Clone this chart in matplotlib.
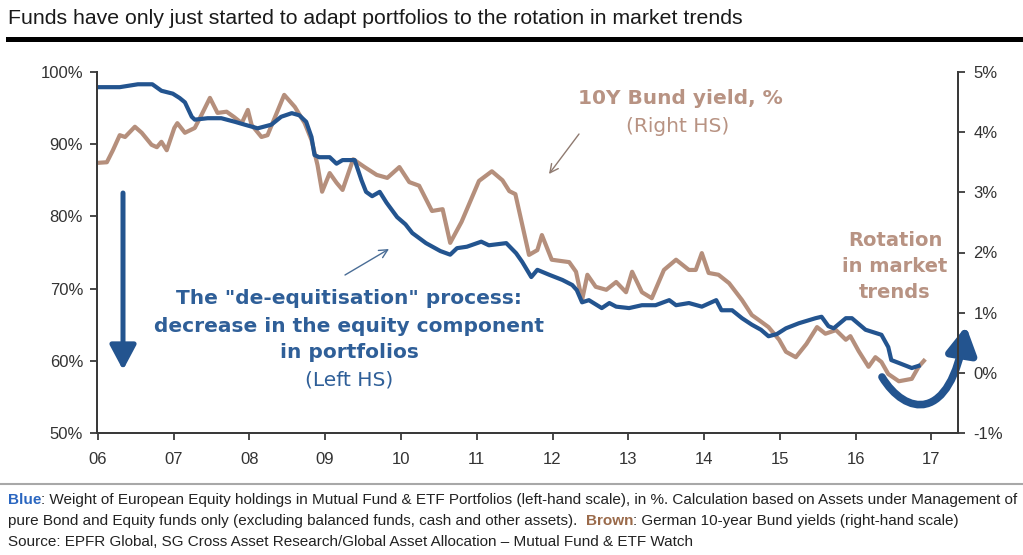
import matplotlib
matplotlib.use("Agg")
import matplotlib.pyplot as plt
from matplotlib.patches import FancyArrowPatch
from matplotlib.path import Path
from matplotlib.ticker import FuncFormatter, MultipleLocator

# Equity weight in fund portfolios (left scale, %)
blue_years = [
    2006.00, 2006.29, 2006.53, 2006.72, 2006.84, 2006.99, 2007.08, 2007.15, 2007.24, 2007.28,
    2007.45, 2007.63, 2007.81, 2007.94, 2008.11, 2008.29, 2008.42, 2008.56, 2008.66, 2008.75,
    2008.82, 2008.86, 2008.92, 2009.06, 2009.15, 2009.23, 2009.39, 2009.48, 2009.54, 2009.62,
    2009.72, 2009.81, 2009.95, 2010.06, 2010.15, 2010.33, 2010.52, 2010.65, 2010.74, 2010.87,
    2011.06, 2011.16, 2011.39, 2011.52, 2011.60, 2011.72, 2011.80, 2011.96, 2012.13, 2012.26,
    2012.32, 2012.39, 2012.48, 2012.65, 2012.75, 2012.84, 2013.01, 2013.18, 2013.36, 2013.54,
    2013.63, 2013.80, 2013.97, 2014.16, 2014.23, 2014.37, 2014.50, 2014.63, 2014.75, 2014.85,
    2014.96, 2015.08, 2015.25, 2015.47, 2015.55, 2015.64, 2015.71, 2015.87, 2015.95, 2016.13,
    2016.34, 2016.43, 2016.47, 2016.57, 2016.74, 2016.83,
]
blue_pct = [
    97.9, 97.9, 98.3, 98.3, 97.4, 97.0, 96.4, 95.8, 93.8, 93.4,
    93.6, 93.6, 93.1, 92.7, 92.2, 92.7, 93.8, 94.3, 94.0, 93.1,
    91.0, 88.5, 88.2, 88.2, 87.3, 87.8, 87.8, 85.0, 83.4, 82.8,
    83.4, 81.9, 79.9, 78.9, 77.7, 76.3, 75.2, 74.7, 75.6, 75.8,
    76.5, 76.0, 76.3, 74.9, 73.7, 71.6, 72.6, 71.9, 71.2, 70.5,
    69.8, 68.1, 68.4, 67.3, 68.0, 67.5, 67.3, 67.7, 67.7, 68.4,
    67.7, 68.0, 67.5, 68.4, 67.0, 67.0, 65.9, 65.0, 64.3, 63.4,
    63.7, 64.5, 65.2, 65.9, 66.1, 64.8, 64.5, 65.9, 65.9, 64.3,
    63.6, 61.9, 60.1, 59.7, 59.0, 59.3,
]

# German 10Y Bund yield (right scale, %)
bund_years = [
    2006.00, 2006.12, 2006.20, 2006.29, 2006.36, 2006.49, 2006.58, 2006.71, 2006.78, 2006.84,
    2006.91, 2007.01, 2007.05, 2007.15, 2007.28, 2007.37, 2007.48, 2007.58, 2007.70, 2007.80,
    2007.90, 2007.98, 2008.03, 2008.16, 2008.24, 2008.46, 2008.60, 2008.73, 2008.82, 2008.90,
    2008.96, 2009.06, 2009.15, 2009.23, 2009.37, 2009.52, 2009.68, 2009.82, 2009.98, 2010.11,
    2010.24, 2010.41, 2010.55, 2010.65, 2010.80, 2011.03, 2011.20, 2011.34, 2011.43, 2011.51,
    2011.69, 2011.80, 2011.86, 2011.99, 2012.22, 2012.31, 2012.39, 2012.46, 2012.57, 2012.71,
    2012.84, 2012.97, 2013.05, 2013.18, 2013.31, 2013.47, 2013.63, 2013.80, 2013.89, 2013.97,
    2014.06, 2014.19, 2014.33, 2014.50, 2014.63, 2014.72, 2014.85, 2014.99, 2015.08, 2015.21,
    2015.35, 2015.49, 2015.60, 2015.74, 2015.87, 2015.93, 2016.04, 2016.17, 2016.26, 2016.34,
    2016.43, 2016.57, 2016.74, 2016.83, 2016.90,
]
bund_yield = [
    3.49, 3.50, 3.70, 3.95, 3.92, 4.09, 3.99, 3.79, 3.75, 3.84,
    3.70, 4.07, 4.15, 3.99, 4.07, 4.29, 4.57, 4.32, 4.34, 4.25,
    4.15, 4.37, 4.12, 3.92, 3.95, 4.62, 4.42, 4.15, 3.87, 3.45,
    3.01, 3.32, 3.16, 3.04, 3.55, 3.42, 3.29, 3.24, 3.42, 3.17,
    3.11, 2.69, 2.72, 2.16, 2.51, 3.19, 3.35, 3.20, 3.02, 2.97,
    1.96, 2.04, 2.29, 1.88, 1.84, 1.68, 1.21, 1.63, 1.43, 1.38,
    1.51, 1.34, 1.68, 1.34, 1.24, 1.71, 1.88, 1.71, 1.71, 1.99,
    1.66, 1.63, 1.49, 1.21, 0.96, 0.88, 0.76, 0.55, 0.35, 0.26,
    0.48, 0.76, 0.65, 0.71, 0.55, 0.61, 0.36, 0.10, 0.26, 0.18,
    -0.02, -0.14, -0.10, 0.10, 0.20,
]

year_ticks = list(range(2006, 2018))
year_labels = [f"{y % 100:02d}" for y in year_ticks]

BLUE = "#23548f"
BROWN = "#b58f7c"
BLUE_TXT = "#2f5f98"
BROWN_TXT = "#b89383"
AXIS = "#3a3a3a"

plt.rcParams["font.family"] = ["Liberation Sans", "DejaVu Sans"]
WIDE = ["DejaVu Sans"]

W, H = 1023, 555
fig = plt.figure(figsize=(W / 100, H / 100), dpi=100)


def px(x, y):
    return (x / W, 1 - y / H)


ax = fig.add_axes([97 / W, 1 - 433 / H, (958 - 97) / W, (433 - 72) / H])
ax2 = ax.twinx()
ax.set_zorder(ax2.get_zorder() + 1)
ax.patch.set_visible(False)

ax2.plot(bund_years, bund_yield, color=BROWN, lw=3, solid_joinstyle="round")
ax.plot(blue_years, blue_pct, color=BLUE, lw=3, solid_joinstyle="round")

ax.set_xlim(2005.99, 2017.35)
ax.set_ylim(50, 100)
ax2.set_ylim(-1, 5)
ax.set_xticks(year_ticks)
ax.set_xticklabels(year_labels)
ax.yaxis.set_major_locator(MultipleLocator(10))
ax.yaxis.set_major_formatter(FuncFormatter(lambda v, _: f"{v:.0f}%"))
ax2.yaxis.set_major_locator(MultipleLocator(1))
ax2.yaxis.set_major_formatter(FuncFormatter(lambda v, _: f"{v:.0f}%"))

for a in (ax, ax2):
    a.spines["top"].set_visible(False)
    for s in ("left", "right", "bottom"):
        a.spines[s].set_color(AXIS)
        a.spines[s].set_linewidth(1.4)
    a.tick_params(axis="both", direction="out", length=5, width=1.3,
                  color=AXIS, labelsize=12, labelcolor="#333333")
ax.tick_params(axis="x", pad=9)
ax.tick_params(axis="y", pad=5)
ax2.tick_params(axis="y", pad=6)

# title and rules
fig.text(*px(8, 18), "Funds have only just started to adapt portfolios to the rotation in market trends",
         fontsize=15.3, color="#1a1a1a", va="center", ha="left")
fig.add_artist(plt.Line2D([8 / W, 1], [1 - 39 / H] * 2, color="black", lw=3.6,
                          transform=fig.transFigure))
fig.add_artist(plt.Line2D([0, 1], [1 - 484 / H] * 2, color="#a8a8a8", lw=1.5,
                          transform=fig.transFigure))

# bund annotation
fig.text(*px(680, 98), "10Y Bund yield, %", family=WIDE, fontsize=14.5, fontweight="bold",
         color=BROWN_TXT, ha="center", va="center")
fig.text(*px(678, 127), "(Right HS)", family=WIDE, fontsize=14.5, color=BROWN_TXT,
         ha="center", va="center")
fig.add_artist(FancyArrowPatch(px(579, 134), px(549, 174), transform=fig.transFigure,
                               arrowstyle="->,head_length=6,head_width=3", lw=1.0,
                               color="#8f7a70", shrinkA=0, shrinkB=0))

# de-equitisation annotation
for y, s, w in [(299, 'The "de-equitisation" process:', "bold"),
                (327, "decrease in the equity component", "bold"),
                (353, "in portfolios", "bold"),
                (380, "(Left HS)", "normal")]:
    fig.text(*px(349, y), s, family=WIDE, fontsize=14.5, fontweight=w, color=BLUE_TXT,
             ha="center", va="center")
fig.add_artist(FancyArrowPatch(px(345, 275), px(389, 249), transform=fig.transFigure,
                               arrowstyle="->,head_length=6,head_width=3", lw=1.0,
                               color="#4a6d96", shrinkA=0, shrinkB=0))
fig.add_artist(FancyArrowPatch(px(123, 193), px(123, 370), transform=fig.transFigure,
                               arrowstyle="-|>,head_length=15,head_width=8", lw=3.6,
                               color=BLUE, shrinkA=0, shrinkB=0, mutation_scale=1))

# rotation annotation
for y, s in [(240, "Rotation"), (266, "in market"), (293, "trends")]:
    fig.text(*px(895, y), s, family=WIDE, fontsize=14, fontweight="bold", color=BROWN_TXT,
             ha="center", va="center")
swoosh = Path([px(882, 377), px(905, 415), px(950, 425), px(966, 326)],
              [Path.MOVETO, Path.CURVE4, Path.CURVE4, Path.CURVE4])
fig.add_artist(FancyArrowPatch(path=swoosh, transform=fig.transFigure,
                               arrowstyle="-|>,head_length=16,head_width=9", lw=5.5,
                               color=BLUE, mutation_scale=1))

# footnote
fs = 11
t = fig.text(*px(8, 500), "Blue", fontsize=fs, fontweight="bold", color="#2a66c0", va="center")
ax.annotate(": Weight of European Equity holdings in Mutual Fund & ETF Portfolios (left-hand scale), "
            "in %. Calculation based on Assets under Management of",
            xy=(1, 0.5), xycoords=t, va="center", ha="left", fontsize=fs,
            color="#222222", annotation_clip=False)
t2 = fig.text(*px(8, 521), "pure Bond and Equity funds only (excluding balanced funds, cash and other assets).  ",
              fontsize=fs, color="#222222", va="center")
t3 = ax.annotate("Brown", xy=(1, 0.5), xycoords=t2, va="center", ha="left",
                 fontsize=fs, fontweight="bold", color="#9a6a4a", annotation_clip=False)
ax.annotate(": German 10-year Bund yields (right-hand scale)", xy=(1, 0.5), xycoords=t3,
            va="center", ha="left", fontsize=fs, color="#222222", annotation_clip=False)
fig.text(*px(8, 542), "Source: EPFR Global, SG Cross Asset Research/Global Asset Allocation \u2013 "
         "Mutual Fund & ETF Watch", fontsize=fs, color="#222222", va="center")

fig.savefig("out.png", dpi=100)
